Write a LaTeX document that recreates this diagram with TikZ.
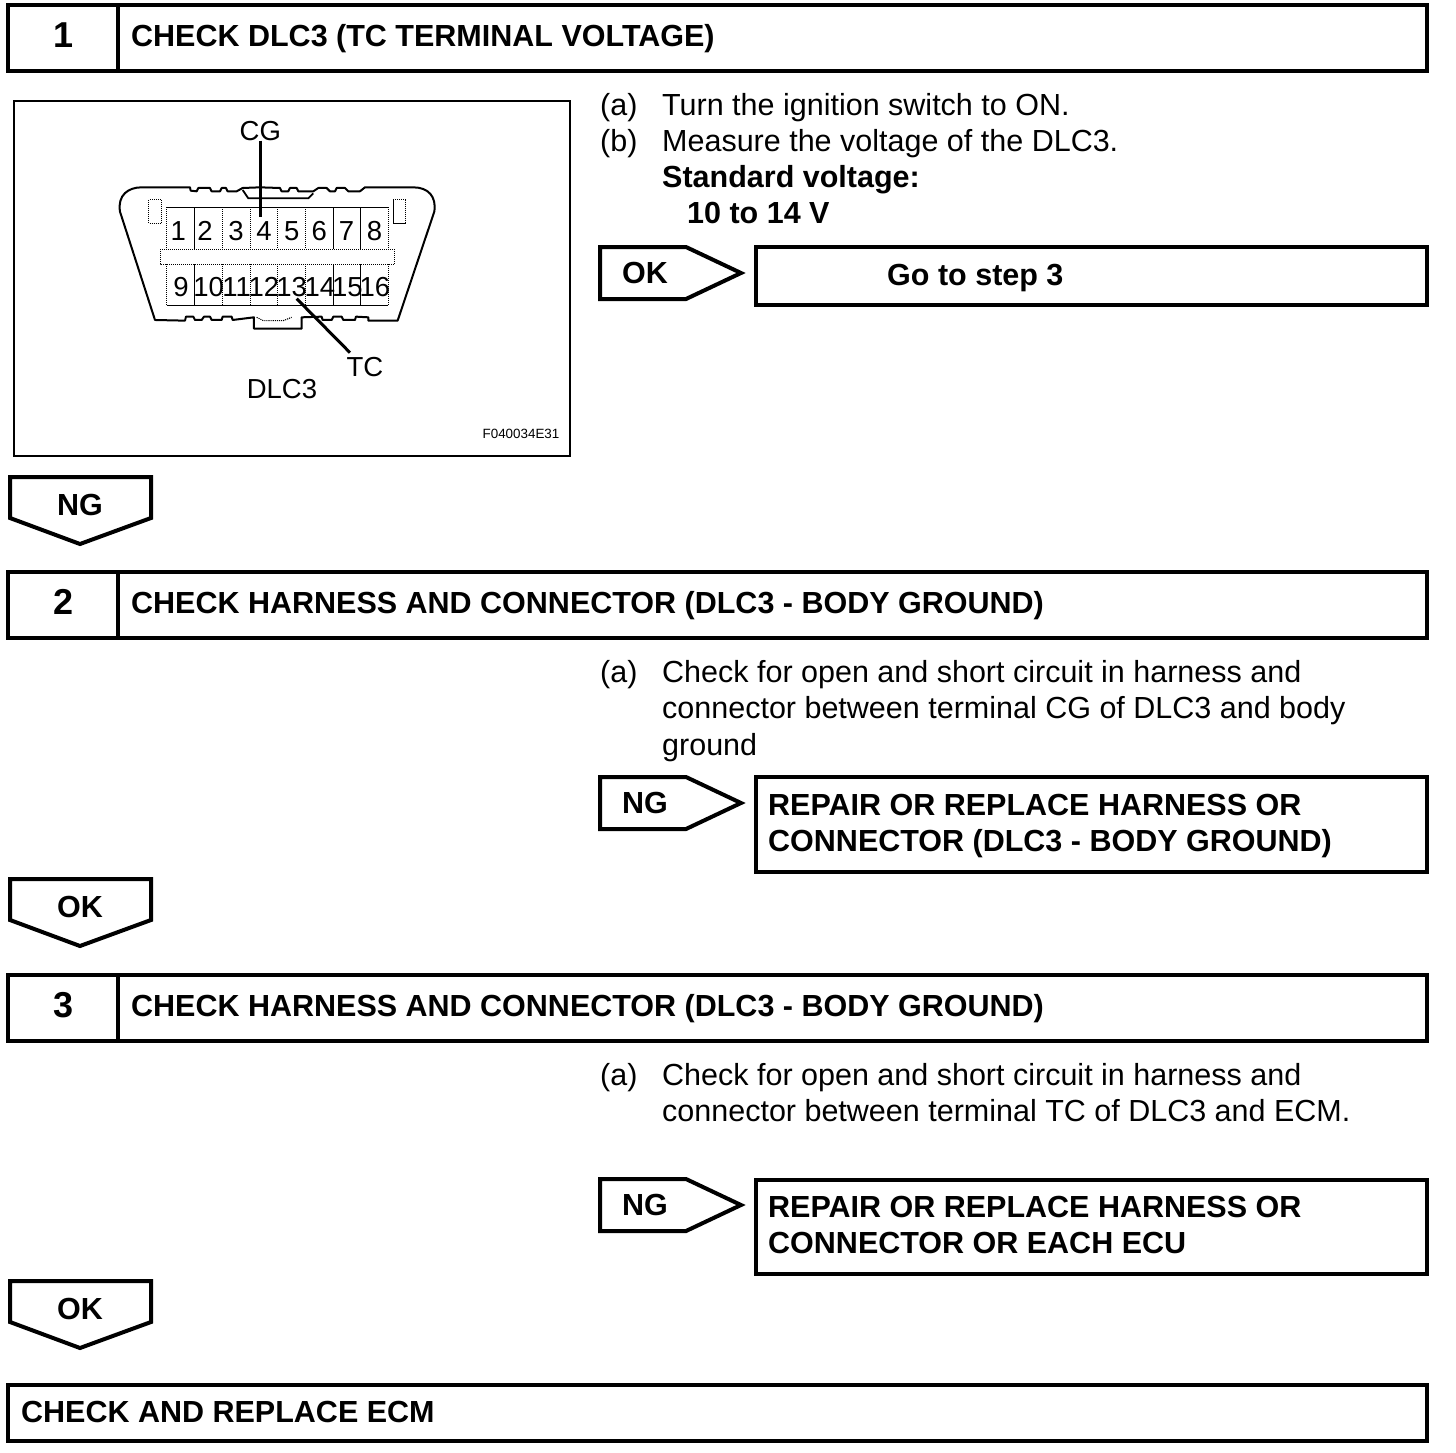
\documentclass[tikz,border=0pt]{standalone}
\usepackage{fontspec}
\setmainfont{Liberation Sans}
\newcommand{\fbody}{\fontsize{30.5}{36}\selectfont}
\newcommand{\fbold}{\fontsize{30.5}{36}\selectfont\bfseries}
\newcommand{\fnum}{\fontsize{36}{40}\selectfont\bfseries}
\newcommand{\fpin}{\fontsize{27.5}{32}\selectfont}
\tikzset{
  thick box/.style={draw=black,line width=4pt,fill=white,rectangle,inner sep=0pt,outer sep=0pt,anchor=north west},
  body/.style={inner sep=0pt,anchor=base west,font=\fbody},
  boldtext/.style={inner sep=0pt,anchor=base west,font=\fbold},
  numtext/.style={inner sep=0pt,anchor=center,font=\fnum},
  tagtext/.style={inner sep=0pt,anchor=base,font=\fbold},
  pinnum/.style={inner sep=0pt,anchor=base,font=\fpin},
  figlabel/.style={inner sep=0pt,anchor=center,font=\fpin},
  tag/.style={draw=black,line width=4pt,line join=miter,fill=white},
  leader/.style={draw=black,line width=3pt},
}
\newcommand{\rtag}[3]{% name, top y, text
  \draw[tag] (600,#2) -- (686,#2) -- (741,#2+26) -- (686,#2+52) -- (600,#2+52) -- cycle;
  \node[tagtext] (#1) at (645,#2+36) {#3};
}
\newcommand{\dtag}[3]{% name, top y, text
  \draw[tag] (10,#2) -- (151,#2) -- (151,#2+41) -- (80,#2+67) -- (10,#2+41) -- cycle;
  \node[tagtext] (#1) at (80,#2+38) {#3};
}
\newcommand{\header}[4]{% name, top y, number, text
  \node[thick box,minimum width=1419pt,minimum height=66pt] (#1box) at (8,#2) {};
  \draw[black,line width=4pt] (118,#2) -- (118,#2+66);
  \node[numtext] (#1num) at (64,#2+30) {#3};
  \node[boldtext] (#1text) at (131,#2+41) {#4};
}
\begin{document}
\begin{tikzpicture}[x=1pt,y=-1pt]
\useasboundingbox (0,0) rectangle (1456,1452);
\fill[white] (0,0) rectangle (1456,1452);

% Step 1
\header{a}{5}{1}{CHECK DLC3 (TC TERMINAL VOLTAGE)}
\node[draw=black,line width=2.5pt,rectangle,inner sep=0pt,outer sep=0pt,anchor=north west,minimum width=556pt,minimum height=355pt] (figbox) at (14,101) {};

\begin{scope}[shift={(100,110)},x=0.3333pt,y=-0.3333pt]
  % outline
  \draw[black,line width=2pt,line join=round]
    (165,630) -- (60,305) .. controls (52,255) and (85,232) .. (125,232)
    -- (270,232) -- (272,242) -- (290,244) -- (295,234) -- (330,234) -- (335,244) -- (360,244) -- (365,234) -- (378,234) -- (383,244) -- (410,244) -- (428,234)
    -- (480,232) -- (540,234) -- (545,244) -- (565,244) -- (570,234) -- (590,234) -- (595,244) -- (640,244) -- (655,234) -- (680,234) -- (690,244) -- (705,244) -- (710,234) -- (735,234) -- (745,244) -- (780,244) -- (795,232)
    -- (940,232) .. controls (985,232) and (1010,260) .. (1003,305)
    -- (893,632) -- (805,632) -- (805,622) -- (768,620) -- (765,630) -- (730,630) -- (725,620) -- (700,620) -- (695,630) -- (668,630) -- (665,620) -- (605,622) -- (605,656) -- (462,656) -- (462,622) -- (398,630) -- (395,620) -- (368,620) -- (365,630) -- (335,630) -- (330,620) -- (312,620) -- (305,630) -- (285,630) -- (280,620) -- (258,620) -- (255,632) -- cycle;
  \draw[black,line width=1.8pt] (428,240) -- (445,265) -- (625,265) -- (640,250);
  \draw[black,line width=1.1pt,densely dotted] (470,622) -- (490,632) -- (520,632) -- (550,632) -- (575,622);
  % side slots
  \draw[black,line width=1pt,densely dotted] (147,270) rectangle (185,340);
  \draw[black,line width=1pt] (880,270) -- (880,340) -- (917,340);
  \draw[black,line width=1pt,densely dotted] (880,270) -- (917,270) -- (917,340);
  % pin grid
  \draw[black,line width=1pt] (200,292) -- (865,292);
  \draw[black,line width=1pt] (200,587) -- (865,587);
  \draw[black,line width=1pt] (284,292) -- (284,418) (284,463) -- (284,587) (700,292) -- (700,418) (782,292) -- (782,418) (700,463) -- (700,587) (782,463) -- (782,587);
  \draw[black,line width=1pt,densely dotted] (200,292) -- (200,418) (200,463) -- (200,587) (368,292) -- (368,418) (368,463) -- (368,587) (452,292) -- (452,418) (452,463) -- (452,587) (532,292) -- (532,418) (532,463) -- (532,587) (616,292) -- (616,418) (616,463) -- (616,587) (865,292) -- (865,418) (865,463) -- (865,587);
  \draw[black,line width=1pt,densely dotted] (181,418) rectangle (884,463);
  % pin numbers
  \node[pinnum] (p1) at (235,391) {1};
  \node[pinnum] (p2) at (315,391) {2};
  \node[pinnum] (p3) at (408,391) {3};
  \node[pinnum] (p4) at (492,391) {4};
  \node[pinnum] (p5) at (575,391) {5};
  \node[pinnum] (p6) at (658,391) {6};
  \node[pinnum] (p7) at (740,391) {7};
  \node[pinnum] (p8) at (824,391) {8};
  \node[pinnum] (p9) at (243,560) {9};
  \node[pinnum] (p10) at (326,560) {10};
  \node[pinnum] (p11) at (410,560) {11};
  \node[pinnum] (p12) at (492,560) {12};
  \node[pinnum] (p13) at (575,560) {13};
  \node[pinnum] (p14) at (660,560) {14};
  \node[pinnum] (p15) at (742,560) {15};
  \node[pinnum] (p16) at (825,560) {16};
  % labels
  \node[figlabel] (CG) at (481,62) {CG};
  \node[figlabel] (TC) at (795,772) {TC};
  \node[figlabel] (dlc) at (546,838) {DLC3};
  \coordinate (cgtop) at (483,92);
  \coordinate (cgend) at (483,320);
  \coordinate (tcend) at (590,566);
  \coordinate (tctop) at (750,728);
  \draw[leader] (cgtop) -- (cgend);
  \draw[leader] (tctop) -- (tcend);
\end{scope}
\node[inner sep=0pt,font=\fontsize{13.4}{16}\selectfont] (figid) at (521,434) {F040034E31};

\node[body] (a1a) at (600,115) {(a)};
\node[body] (a1t) at (662,115) {Turn the ignition switch to ON.};
\node[body] (a2a) at (600,151) {(b)};
\node[body] (a2t) at (662,151) {Measure the voltage of the DLC3.};
\node[boldtext] (a3t) at (662,187) {Standard voltage:};
\node[boldtext] (a4t) at (687,223) {10 to 14 V};

\rtag{tag1}{247}{OK}
\node[thick box,minimum width=671pt,minimum height=58pt] (res1) at (756,247) {};
\node[boldtext] (res1t) at (887,285) {Go to step 3};
\dtag{tag2}{477}{NG}

% Step 2
\header{b}{572}{2}{CHECK HARNESS AND CONNECTOR (DLC3 - BODY GROUND)}
\node[body] (b1a) at (600,682) {(a)};
\node[body] (b1t) at (662,682) {Check for open and short circuit in harness and};
\node[body] (b2t) at (662,718) {connector between terminal CG of DLC3 and body};
\node[body] (b3t) at (662,755) {ground};
\rtag{tag3}{777}{NG}
\node[thick box,minimum width=671pt,minimum height=95pt] (res2) at (756,777) {};
\node[boldtext] (res2a) at (768,815) {REPAIR OR REPLACE HARNESS OR};
\node[boldtext] (res2b) at (768,851) {CONNECTOR (DLC3 - BODY GROUND)};
\dtag{tag4}{879}{OK}

% Step 3
\header{c}{975}{3}{CHECK HARNESS AND CONNECTOR (DLC3 - BODY GROUND)}
\node[body] (c1a) at (600,1085) {(a)};
\node[body] (c1t) at (662,1085) {Check for open and short circuit in harness and};
\node[body] (c2t) at (662,1121) {connector between terminal TC of DLC3 and ECM.};
\rtag{tag5}{1179}{NG}
\node[thick box,minimum width=671pt,minimum height=94pt] (res3) at (756,1180) {};
\node[boldtext] (res3a) at (768,1217) {REPAIR OR REPLACE HARNESS OR};
\node[boldtext] (res3b) at (768,1253) {CONNECTOR OR EACH ECU};
\dtag{tag6}{1281}{OK}

% Final
\node[thick box,minimum width=1419pt,minimum height=56pt] (endbox) at (8,1385) {};
\node[boldtext] (endt) at (21,1422) {CHECK AND REPLACE ECM};
\end{tikzpicture}
\end{document}
